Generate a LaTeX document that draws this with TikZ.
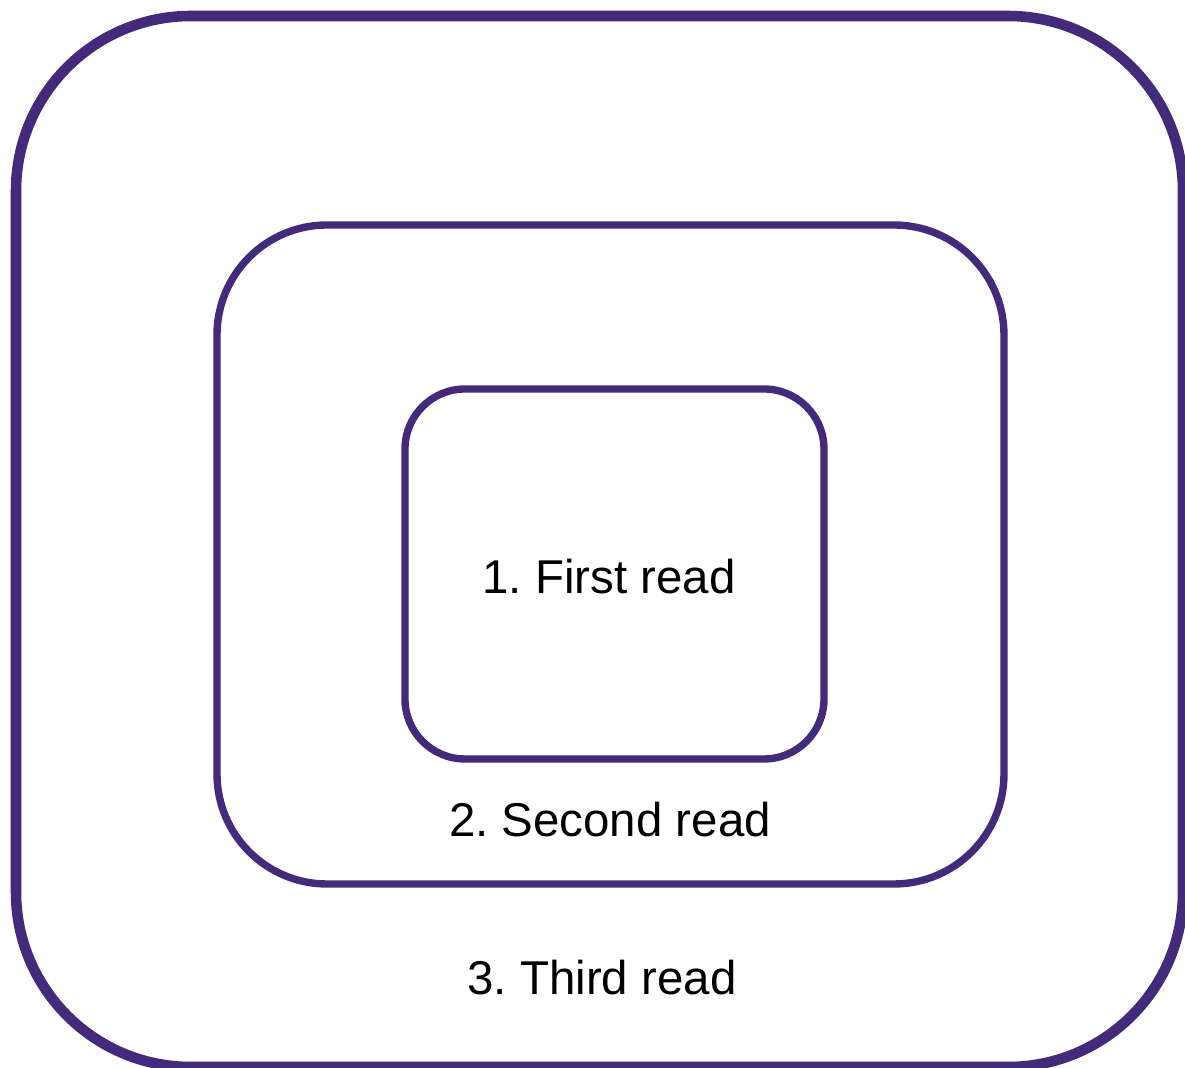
\documentclass[tikz,border=0pt]{standalone}
\usepackage{fontspec}
\setmainfont{Liberation Sans}
\definecolor{lesepurpur}{HTML}{432A7A}
\frenchspacing

\begin{document}
\begin{tikzpicture}[
    rahmen/.style={
      draw=lesepurpur,
      rectangle,
      line width=2.1pt,
      inner sep=0pt},
    beschriftung/.style={
      font=\fontsize{13.5pt}{16pt}\selectfont,
      inner sep=0pt}
    ]

  \useasboundingbox (0,0) rectangle (11.85,10.68);

  \node at (5.995, 5.265) (lesung3) [rahmen, line width=3pt, rounded corners=1.75cm, minimum width=11.67cm, minimum height=10.51cm] {};
\node at (6.105, 5.135) (lesung2) [rahmen, rounded corners=1.1cm, minimum width=7.87cm, minimum height=6.59cm] {};
\node at (6.145, 4.94) (lesung1) [rahmen, rounded corners=0.6cm, minimum width=4.19cm, minimum height=3.70cm] {};

\node at (6.09, 4.91) (text1) [beschriftung] {1. First read};
\node at (6.10, 2.48) (text2) [beschriftung] {2. Second read};
\node at (6.02, 0.90) (text3) [beschriftung] {3. Third read};

\end{tikzpicture}
\end{document}
